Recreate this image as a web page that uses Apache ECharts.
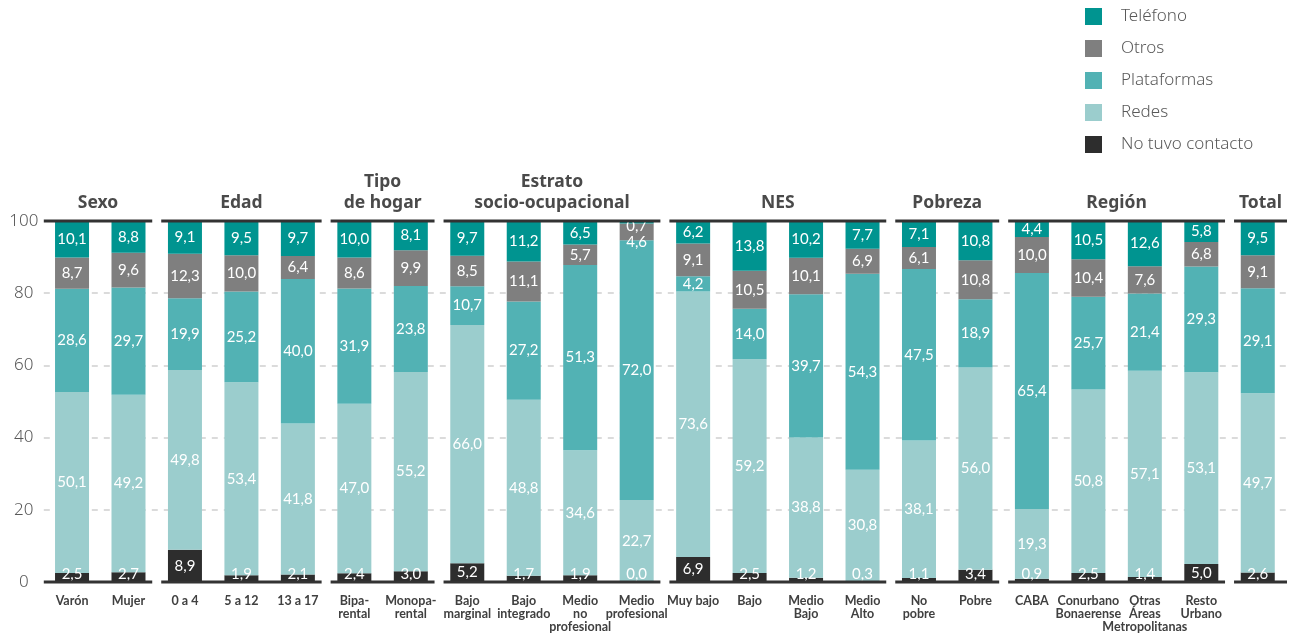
<!DOCTYPE html>
<html>
<head>
<meta charset="utf-8">
<script src="https://cdn.jsdelivr.net/npm/echarts@6/dist/echarts.min.js"></script>
<style>
  html, body { margin: 0; padding: 0; background: #ffffff; }
  #chart { width: 1295px; height: 635px; }
</style>
</head>
<body>
<div id="chart"></div>
<script>
// ---- Data ----
var categories = ['Varón', 'Mujer', '0 a 4', '5 a 12', '13 a 17', 'Bipa-\nrental', 'Monopa-\nrental',
  'Bajo\nmarginal', 'Bajo\nintegrado', 'Medio\nno\nprofesional', 'Medio\nprofesional',
  'Muy bajo', 'Bajo', 'Medio\nBajo', 'Medio\nAlto', 'No\npobre', 'Pobre',
  'CABA', 'Conurbano\nBonaerense', 'Otras\nÁreas\nMetropolitanas', 'Resto\nUrbano', 'Total'];

var noTuvoContacto = [2.5, 2.7, 8.9, 1.9, 2.1, 2.4, 3.0, 5.2, 1.7, 1.9, 0.0, 6.9, 2.5, 1.2, 0.3, 1.1, 3.4, 0.9, 2.5, 1.4, 5.0, 2.6];
var redes          = [50.1, 49.2, 49.8, 53.4, 41.8, 47.0, 55.2, 66.0, 48.8, 34.6, 22.7, 73.6, 59.2, 38.8, 30.8, 38.1, 56.0, 19.3, 50.8, 57.1, 53.1, 49.7];
var plataformas    = [28.6, 29.7, 19.9, 25.2, 40.0, 31.9, 23.8, 10.7, 27.2, 51.3, 72.0, 4.2, 14.0, 39.7, 54.3, 47.5, 18.9, 65.4, 25.7, 21.4, 29.3, 29.1];
var otros          = [8.7, 9.6, 12.3, 10.0, 6.4, 8.6, 9.9, 8.5, 11.1, 5.7, 4.6, 9.1, 10.5, 10.1, 6.9, 6.1, 10.8, 10.0, 10.4, 7.6, 6.8, 9.1];
var telefono       = [10.1, 8.8, 9.1, 9.5, 9.7, 10.0, 8.1, 9.7, 11.2, 6.5, 0.7, 6.2, 13.8, 10.2, 7.7, 7.1, 10.8, 4.4, 10.5, 12.6, 5.8, 9.5];

// groups: [first category index, last category index]
var groupNames  = ['Sexo', 'Edad', 'Tipo\nde hogar', 'Estrato\nsocio-ocupacional', 'NES', 'Pobreza', 'Región', 'Total'];
var groupRanges = [[0, 1], [2, 4], [5, 6], [7, 10], [11, 14], [15, 16], [17, 20], [21, 21]];

var yTicks = [0, 20, 40, 60, 80, 100];

// ---- Styles ----
var COLORS = {
  'No tuvo contacto': '#2d2d2d',
  'Redes': '#9bcdcd',
  'Plataformas': '#52b2b4',
  'Otros': '#7f7f7f',
  'Teléfono': '#009490'
};

function fmt(v) { return v.toFixed(1).replace('.', ','); }

function barSeries(name, data, clampMode) {
  var s = {
    name: name,
    type: 'bar',
    stack: 'total',
    barWidth: 34,
    data: data,
    itemStyle: { color: COLORS[name] },
    label: {
      show: true,
      position: 'inside',
      color: '#ffffff',
      fontFamily: 'Lato, sans-serif',
      fontSize: 15,
      formatter: function (p) { return fmt(p.value); }
    },
    emphasis: { disabled: true },
    z: 2
  };
  if (clampMode === 'bottom') {
    s.labelLayout = function (p) {
      var bottom = p.rect.y + p.rect.height;
      var cy = p.labelRect.y + p.labelRect.height / 2;
      var maxCy = bottom - 8;
      if (cy > maxCy) { return { dy: maxCy - cy }; }
      return {};
    };
  } else if (clampMode === 'top') {
    s.labelLayout = function (p) {
      var top = p.rect.y;
      var cy = p.labelRect.y + p.labelRect.height / 2;
      var minCy = top + 5;
      if (cy < minCy) { return { dy: minCy - cy }; }
      return {};
    };
  } else if (clampMode === 'push') {
    // segment too short for its label: move the label just below the segment
    s.labelLayout = function (p) {
      if (p.rect.height < p.labelRect.height + 3) {
        var cy = p.labelRect.y + p.labelRect.height / 2;
        var target = p.rect.y + p.rect.height + 2;
        return { dy: target - cy };
      }
      return {};
    };
  }
  return s;
}

var lastIdx = categories.length - 1;

var chart = echarts.init(document.getElementById('chart'), null, { renderer: 'canvas' });
chart.setOption({
  animation: false,
  backgroundColor: '#ffffff',
  grid: { left: 43.8, right: 9, top: 221, bottom: 53, containLabel: false },
  legend: {
    orient: 'vertical',
    left: 1085,
    top: 8,
    padding: 0,
    itemWidth: 17,
    itemHeight: 17,
    itemGap: 15,
    icon: 'rect',
    data: ['Teléfono', 'Otros', 'Plataformas', 'Redes', 'No tuvo contacto'],
    textStyle: { fontFamily: "'Noto Sans', sans-serif", fontWeight: 300, fontSize: 17, color: '#595959', padding: [0, 0, 0, 14] }
  },
  xAxis: {
    type: 'category',
    data: categories,
    axisLine: { show: false },
    axisTick: { show: false },
    axisLabel: {
      interval: 0,
      margin: 12,
      fontFamily: 'Lato, sans-serif',
      fontWeight: 'bold',
      fontSize: 12.5,
      lineHeight: 13,
      color: '#404040',
      formatter: function (v) { return v === 'Total' ? '' : v; }
    }
  },
  yAxis: {
    type: 'value',
    min: yTicks[0],
    max: yTicks[yTicks.length - 1],
    interval: 20,
    axisLine: { show: false },
    axisTick: { show: false },
    axisLabel: {
      margin: 20,
      align: 'center',
      fontFamily: "'Noto Sans', sans-serif",
      fontWeight: 300,
      fontSize: 17,
      color: '#595959'
    },
    splitLine: {
      show: true,
      showMinLine: false,
      showMaxLine: false,
      lineStyle: { color: '#d0d0d0', width: 1.5, type: [6, 6] }
    }
  },
  series: [
    barSeries('No tuvo contacto', noTuvoContacto, 'bottom'),
    barSeries('Redes', redes),
    barSeries('Plataformas', plataformas),
    barSeries('Otros', otros, 'push'),
    barSeries('Teléfono', telefono, 'top'),
    {
      type: 'custom',
      name: 'groups',
      clip: false,
      z: 10,
      silent: true,
      data: groupRanges,
      encode: { x: [0, 1] },
      renderItem: function (params, api) {
        var s = api.value(0), e = api.value(1);
        var band = api.size([1, 0])[0];
        var pTop = api.coord([s, 100]);
        var pBot = api.coord([e, 0]);
        var insL = s === 0 ? 0 : 4.5;
        var insR = e === lastIdx ? -1 : 4.5;
        var x1 = pTop[0] - band / 2 + insL;
        var x2 = pBot[0] + band / 2 - insR;
        var lineStyle = { stroke: '#333333', lineWidth: 3 };
        return {
          type: 'group',
          children: [
            { type: 'line', shape: { x1: x1, y1: pTop[1], x2: x2, y2: pTop[1] }, style: lineStyle },
            { type: 'line', shape: { x1: x1, y1: pBot[1], x2: x2, y2: pBot[1] }, style: lineStyle },
            {
              type: 'text',
              x: (x1 + x2) / 2,
              y: pTop[1] - 7,
              style: {
                text: groupNames[params.dataIndex],
                align: 'center',
                verticalAlign: 'bottom',
                fontFamily: "'Noto Sans', sans-serif",
                fontWeight: 'bold',
                fontSize: 17.5,
                lineHeight: 21,
                fill: '#4a4a4a'
              }
            }
          ]
        };
      }
    }
  ]
});
</script>
</body>
</html>
